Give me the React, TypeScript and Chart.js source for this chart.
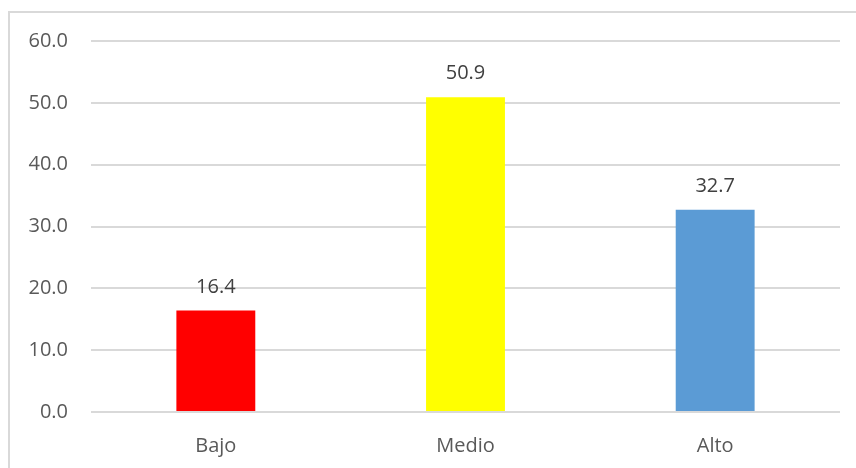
import React, { useEffect, useRef } from "react";
import { Chart, registerables } from "chart.js";

Chart.register(...registerables);

const categories = ["Bajo", "Medio", "Alto"];
const values = [16.4, 50.9, 32.7];
const barColors = ["#FF0000", "#FFFF00", "#5B9BD5"];
const yTicks = [0, 10, 20, 30, 40, 50, 60];

const FONT = "'Open Sans', 'Noto Sans', sans-serif";
const TEXT_COLOR = "#595959";

const borderPlugin = {
  id: "outerBorder",
  beforeDraw(chart: any) {
    const ctx = chart.ctx;
    ctx.save();
    ctx.fillStyle = "#ffffff";
    ctx.fillRect(0, 0, chart.width, chart.height);
    ctx.strokeStyle = "#d9d9d9";
    ctx.lineWidth = 2;
    ctx.strokeRect(9, 12, chart.width + 20, chart.height + 20);
    ctx.restore();
  },
};

const labelPlugin = {
  id: "valueLabels",
  afterDatasetsDraw(chart: any) {
    const ctx = chart.ctx;
    const meta = chart.getDatasetMeta(0);
    ctx.save();
    ctx.font = `20px ${FONT}`;
    ctx.fillStyle = "#404040";
    ctx.textAlign = "center";
    ctx.textBaseline = "alphabetic";
    meta.data.forEach((bar: any, i: number) => {
      ctx.fillText(values[i].toFixed(1), bar.x, bar.y - 18);
    });
    ctx.restore();
  },
};

export default function App() {
  const ref = useRef<HTMLCanvasElement>(null);
  useEffect(() => {
    document.body.style.margin = "0";
    const chart = new Chart(ref.current!, {
      type: "bar",
      data: {
        labels: categories,
        datasets: [
          {
            data: values,
            backgroundColor: barColors,
            categoryPercentage: 1,
            barPercentage: 0.316,
          },
        ],
      },
      options: {
        animation: false,
        responsive: false,
        maintainAspectRatio: false,
        layout: { padding: { top: 41, right: 16, bottom: 0, left: 0 } },
        plugins: { legend: { display: false }, tooltip: { enabled: false } },
        scales: {
          x: {
            grid: { display: false },
            border: { display: false },
            ticks: {
              color: TEXT_COLOR,
              font: { family: FONT, size: 20 },
              padding: 14,
            },
            afterFit(scale: any) {
              scale.height = 56;
            },
          },
          y: {
            min: 0,
            max: 60,
            afterBuildTicks(scale: any) {
              scale.ticks = yTicks.map((v) => ({ value: v }));
            },
            grid: { color: "#d9d9d9", lineWidth: 2, drawTicks: false },
            border: { display: false },
            ticks: {
              color: TEXT_COLOR,
              font: { family: FONT, size: 20 },
              padding: 23,
              callback: (v: any) => Number(v).toFixed(1),
            },
            afterFit(scale: any) {
              scale.width = 91;
            },
          },
        },
      },
      plugins: [borderPlugin, labelPlugin],
    });
    return () => chart.destroy();
  }, []);
  return (
    <div style={{ position: "fixed", left: 0, top: 0, width: 856, height: 468 }}>
      <canvas ref={ref} width={856} height={468} style={{ width: 856, height: 468 }} />
    </div>
  );
}
